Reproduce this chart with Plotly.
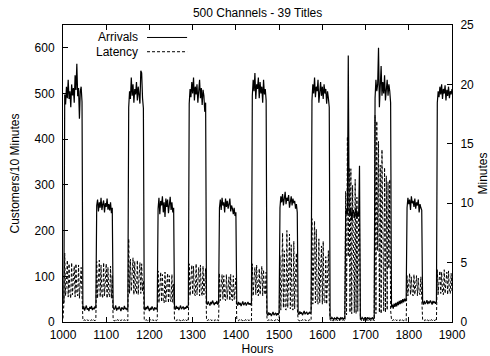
import plotly.graph_objects as go

# Time axis: one sample every 2 hours from hour 1000 to 1900
START_HOUR = 1000
STEP_HOURS = 2

# Customer arrivals per 10 minutes (left axis)
arrivals = [
    40, 44,
    # busy 1004-1044
    498, 476, 515, 490, 530, 488, 505, 470, 520, 496, 512, 480, 540, 508, 565, 494, 512, 445, 505, 515, 482,
    # quiet 1046-1076
    28, 34, 25, 31, 36, 27, 30, 24, 33, 29, 35, 26, 31, 28, 34, 30,
    # medium 1078-1114
    255, 268, 242, 262, 250, 272, 245, 258, 266, 240, 260, 252, 270, 246, 258, 244, 262, 238, 250,
    # quiet 1116-1150
    33, 27, 30, 36, 25, 31, 28, 34, 29, 24, 32, 30, 27, 35, 28, 31, 26, 30,
    # busy 1152-1186
    470, 505, 488, 535, 495, 520, 480, 510, 498, 525, 485, 515, 500, 478, 550, 545, 490, 468,
    # quiet 1188-1218
    30, 26, 33, 28, 35, 29, 24, 31, 27, 34, 30, 25, 32, 28, 31, 27,
    # medium 1220-1256
    248, 272, 236, 265, 255, 275, 240, 262, 230, 270, 252, 268, 238, 258, 274, 245, 262, 240, 250,
    # quiet 1258-1290
    32, 27, 35, 29, 33, 26, 31, 36, 28, 30, 34, 27, 32, 29, 35, 31, 38,
    # busy 1292-1330
    478, 510, 492, 525, 500, 535, 485, 515, 498, 520, 480, 505, 530, 490, 512, 475, 508, 495, 460, 480,
    # quiet 1332-1360
    42, 38, 45, 40, 36, 44, 39, 47, 41, 37, 43, 40, 46, 38, 42,
    # medium 1362-1400
    250, 268, 245, 272, 255, 262, 240, 270, 252, 265, 248, 258, 270, 242, 255, 248, 236, 250, 232, 240,
    # quiet 1402-1436
    40, 36, 44, 38, 42, 35, 41, 45, 37, 40, 43, 36, 39, 44, 38, 41, 37, 42,
    # busy 1438-1470
    495, 530, 505, 545, 488, 520, 510, 535, 490, 525, 500, 515, 480, 530, 498, 510, 485,
    # quiet 1472-1500
    18, 14, 21, 16, 19, 13, 17, 22, 15, 18, 20, 14, 19, 16, 21,
    # medium 1502-1542
    250, 275, 262, 280, 255, 270, 285, 258, 272, 265, 278, 250, 268, 275, 255, 270, 260, 265, 248, 258, 240,
    # quiet 1544-1574
    20, 16, 23, 18, 21, 15, 19, 24, 17, 20, 22, 16, 19, 21, 18, 23,
    # busy 1576-1616
    485, 520, 500, 535, 492, 515, 505, 530, 480, 510, 525, 495, 515, 488, 520, 500, 510, 478, 505, 490, 470,
    # quiet 1618-1652
    9, 6, 10, 7, 5, 9, 8, 6, 11, 7, 8, 5, 9, 7, 10, 6, 8, 7,
    # medium 1654-1686
    230, 248, 236, 583, 242, 235, 250, 222, 240, 245, 228, 238, 250, 226, 240, 232, 342,
    # quiet 1688-1720
    8, 6, 10, 7, 5, 9, 8, 6, 10, 7, 9, 5, 8, 7, 10, 6, 8,
    # busy 1722-1758
    490, 530, 505, 520, 600, 470, 510, 560, 495, 525, 500, 540, 485, 515, 530, 495, 520, 505, 480,
    # quiet 1760-1794
    32, 38, 29, 40, 33, 42, 34, 44, 37, 46, 39, 48, 41, 50, 43, 51, 45, 52,
    # medium 1796-1830
    250, 272, 258, 268, 245, 275, 260, 265, 252, 270, 248, 262, 255, 268, 240, 258, 250, 245,
    # quiet 1832-1864
    44, 38, 46, 40, 42, 48, 39, 45, 41, 47, 43, 38, 46, 42, 44, 40, 45,
    # busy 1866-1900
    480, 505, 492, 515, 498, 520, 488, 510, 500, 518, 485, 508, 495, 515, 490, 505, 498, 510,
]

# Latency in minutes (right axis)
latency = [
    0.3, 1.5,
    # busy 1004-1044
    5.8, 2.2, 3.5, 5.2, 2.1, 4.9, 2.4, 2.0, 5.0, 2.3, 3.6, 4.7, 2.1, 4.9, 2.5, 2.2, 4.8, 2.0, 3.2, 4.6, 2.3,
    # quiet
    0.2, 0.1, 0.2, 0.1, 0.1, 0.2, 0.1, 0.2, 0.1, 0.1, 0.2, 0.1, 0.2, 0.1, 0.1, 0.2,
    # medium 1078-1114
    5.1, 2.0, 3.8, 5.2, 2.1, 4.8, 2.3, 2.0, 5.0, 2.2, 3.4, 4.9, 2.0, 4.6, 2.4, 2.1, 4.7, 2.0, 3.9,
    # quiet
    0.2, 0.1, 0.1, 0.2, 0.1, 0.2, 0.1, 0.1, 0.2, 0.1, 0.2, 0.1, 0.1, 0.2, 0.1, 0.2, 0.1, 0.1,
    # busy 1152-1186
    7.0, 2.4, 5.3, 2.6, 4.0, 5.4, 2.3, 5.1, 2.5, 2.4, 5.2, 2.3, 3.8, 5.0, 2.4, 4.9, 2.6, 3.5,
    # quiet
    0.2, 0.1, 0.2, 0.1, 0.1, 0.2, 0.1, 0.2, 0.1, 0.1, 0.2, 0.1, 0.2, 0.1, 0.1, 0.2,
    # medium 1220-1256
    4.3, 1.6, 3.1, 4.2, 1.7, 4.0, 1.8, 1.6, 4.2, 1.7, 3.0, 4.1, 1.6, 3.9, 1.9, 1.7, 4.0, 1.6, 3.2,
    # quiet
    0.2, 0.1, 0.1, 0.2, 0.1, 0.2, 0.1, 0.1, 0.2, 0.1, 0.2, 0.1, 0.1, 0.2, 0.1, 0.2, 0.1,
    # busy 1292-1330
    4.9, 2.2, 3.6, 4.8, 2.3, 4.7, 2.4, 2.2, 4.9, 2.3, 3.5, 4.6, 2.2, 4.8, 2.5, 2.2, 4.7, 2.3, 3.4, 4.5,
    # quiet
    0.2, 0.1, 0.2, 0.1, 0.1, 0.2, 0.1, 0.2, 0.1, 0.1, 0.2, 0.1, 0.2, 0.1, 0.1,
    # medium 1362-1400
    4.1, 1.8, 3.0, 4.0, 1.9, 3.9, 2.0, 1.8, 4.0, 1.9, 2.9, 3.8, 1.8, 4.0, 2.0, 1.8, 3.9, 1.9, 2.8, 3.7,
    # quiet
    0.2, 0.1, 0.1, 0.2, 0.1, 0.2, 0.1, 0.1, 0.2, 0.1, 0.2, 0.1, 0.1, 0.2, 0.1, 0.2, 0.1, 0.1,
    # busy 1438-1470
    4.9, 2.2, 3.6, 4.6, 2.3, 4.8, 2.4, 2.2, 4.5, 2.3, 3.5, 4.7, 2.2, 4.4, 2.5, 2.3, 4.2,
    # quiet
    0.2, 0.1, 0.2, 0.1, 0.1, 0.2, 0.1, 0.2, 0.1, 0.1, 0.2, 0.1, 0.2, 0.1, 0.1,
    # medium 1502-1542
    5.6, 1.0, 3.5, 7.5, 1.2, 6.0, 1.1, 1.0, 7.7, 1.2, 4.0, 7.4, 1.1, 6.5, 1.3, 1.0, 6.8, 1.1, 3.9, 5.8, 1.2,
    # quiet
    0.2, 0.1, 0.1, 0.2, 0.1, 0.2, 0.1, 0.1, 0.2, 0.1, 0.2, 0.1, 0.1, 0.2, 0.1, 0.2,
    # busy 1576-1616
    8.7, 1.5, 4.5, 8.5, 1.6, 7.8, 1.7, 1.5, 7.0, 1.6, 4.2, 6.4, 1.5, 6.8, 1.8, 1.6, 5.5, 1.5, 3.6, 6.0, 1.7,
    # quiet
    0.2, 0.1, 0.2, 0.1, 0.1, 0.2, 0.1, 0.2, 0.1, 0.1, 0.2, 0.1, 0.2, 0.1, 0.1, 0.2, 0.1, 0.1,
    # medium 1654-1686
    11.0, 0.6, 15.6, 5.5, 13.0, 0.8, 12.9, 0.7, 11.5, 4.5, 0.8, 12.0, 0.7, 10.5, 0.9, 9.0, 8.5,
    # quiet
    0.2, 0.1, 0.1, 0.2, 0.1, 0.2, 0.1, 0.1, 0.2, 0.1, 0.2, 0.1, 0.1, 0.2, 0.1, 0.2, 0.1,
    # busy 1722-1758
    17.4, 0.7, 16.9, 6.0, 15.2, 0.8, 13.2, 0.7, 14.5, 5.0, 0.9, 13.0, 0.8, 12.3, 1.0, 11.8, 4.5, 12.0, 1.0,
    # quiet
    0.2, 0.1, 0.2, 0.1, 0.1, 0.2, 0.1, 0.2, 0.1, 0.1, 0.2, 0.1, 0.2, 0.1, 0.1, 0.2, 0.1, 0.1,
    # medium 1796-1830
    3.9, 2.2, 3.2, 4.1, 2.3, 3.8, 2.4, 2.2, 4.0, 2.3, 3.1, 3.9, 2.2, 3.7, 2.5, 2.3, 3.8, 2.2,
    # quiet
    0.2, 0.1, 0.1, 0.2, 0.1, 0.2, 0.1, 0.1, 0.2, 0.1, 0.2, 0.1, 0.1, 0.2, 0.1, 0.2, 0.1,
    # busy 1866-1900
    4.4, 2.3, 3.5, 4.3, 2.4, 4.2, 2.5, 2.3, 4.4, 2.4, 3.4, 4.2, 2.3, 4.3, 2.6, 2.4, 4.1, 2.5,
]

x_ticks = [1000, 1100, 1200, 1300, 1400, 1500, 1600, 1700, 1800, 1900]
y_ticks = [0, 100, 200, 300, 400, 500, 600]
y2_ticks = [0, 5, 10, 15, 20, 25]

assert len(arrivals) == 451, len(arrivals)
assert len(latency) == 451, len(latency)

hours = [START_HOUR + STEP_HOURS * i for i in range(len(arrivals))]

FONT = "Liberation Sans, Arial, Helvetica, sans-serif"

fig = go.Figure()
fig.add_trace(go.Scatter(x=hours, y=arrivals, mode="lines", name="Arrivals",
                         line=dict(color="black", width=1.2), yaxis="y"))
fig.add_trace(go.Scatter(x=hours, y=latency, mode="lines", name="Latency",
                         line=dict(color="black", width=1, dash="3px,2px"), yaxis="y2"))

axis_common = dict(showgrid=False, zeroline=False, showline=True, linecolor="black",
                   linewidth=1, ticks="inside", ticklen=5, tickcolor="black",
                   automargin=False,
                   tickfont=dict(family=FONT, size=12, color="black"))

fig.update_layout(
    width=490, height=356,
    margin=dict(l=63, r=38, t=25, b=34),
    paper_bgcolor="white", plot_bgcolor="white",
    showlegend=False,
    title=dict(text="500 Channels - 39 Titles", x=0.5257, xanchor="center",
               y=0.963, yanchor="middle",
               font=dict(family=FONT, size=12, color="black")),
    xaxis=dict(range=[1000, 1900], tickvals=x_ticks, mirror="ticks",
               ticklabelstandoff=2,
               title=dict(text="Hours", standoff=5, font=dict(family=FONT, size=12, color="black")),
               **axis_common),
    yaxis=dict(range=[0, 650], tickvals=y_ticks, mirror=False,
               ticklabelstandoff=5,
               title=dict(text="Customers/10 Minutes", standoff=12,
                          font=dict(family=FONT, size=12, color="black")),
               **axis_common),
    yaxis2=dict(range=[0, 25], tickvals=y2_ticks, overlaying="y", side="right",
                ticklabelstandoff=5,
                title=dict(text="Minutes", standoff=14,
                           font=dict(family=FONT, size=12, color="black")),
                **axis_common),
)

# gnuplot-style key: label right-aligned, sample line to its right
key = [("Arrivals", "solid", 0.958), ("Latency", "3px,2px", 0.910)]
for label, dash, ky in key:
    fig.add_annotation(xref="paper", yref="paper", x=0.198, y=ky, text=label,
                       showarrow=False, xanchor="right", yanchor="middle",
                       font=dict(family=FONT, size=12, color="black"))
    fig.add_shape(type="line", xref="paper", yref="paper", x0=0.216, x1=0.319,
                  y0=ky, y1=ky, line=dict(color="black", width=1, dash=dash))

fig.write_html("out.html")
